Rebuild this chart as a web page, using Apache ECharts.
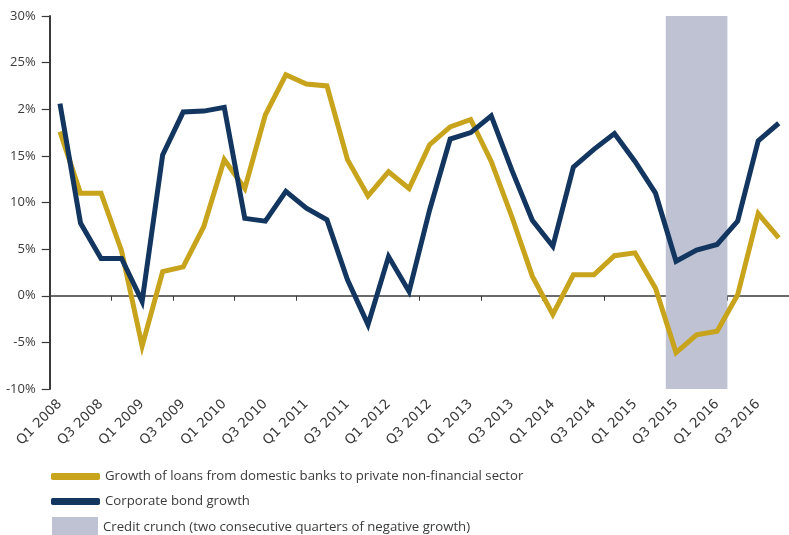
<!DOCTYPE html>
<html><head><meta charset="utf-8">
<script src="https://cdn.jsdelivr.net/npm/echarts@6/dist/echarts.min.js"></script>
<style>html,body{margin:0;padding:0;background:#fff}#c{width:789px;height:535px}</style>
</head><body><div id="c"></div>
<script>
var categories = [];
var years = [2008,2009,2010,2011,2012,2013,2014,2015,2016];
years.forEach(function(y){ for (var q=1;q<=4;q++) categories.push('Q'+q+' '+y); });

var loansGrowth = [17.6,11.0,11.0,4.8,-5.4,2.6,3.1,7.4,14.6,11.5,19.4,23.7,22.7,22.5,14.6,10.7,13.3,11.5,16.2,18.1,18.9,14.4,8.5,2.1,-2.0,2.25,2.25,4.3,4.6,0.8,-6.1,-4.2,-3.8,0.1,8.8,6.2];
var bondGrowth = [20.6,7.8,4.0,4.0,-0.6,15.1,19.7,19.8,20.2,8.3,8.0,11.2,9.4,8.15,1.7,-3.1,4.2,0.45,9.2,16.8,17.5,19.3,13.5,8.1,5.3,13.8,15.7,17.4,14.4,11.0,3.7,4.9,5.5,8.0,16.6,18.5];
var crunchStart = 'Q3 2015';
var crunchEnd = 'Q1 2016';
var yTickLabels = {'-10':'-10%','-5':'-5%','0':'0%','5':'5%','10':'10%','15':'15%','20':'2%','25':'25%','30':'30%'};
var seriesNames = ['Growth of loans from domestic banks to private non-financial sector','Corporate bond growth','Credit crunch (two consecutive quarters of negative growth)'];

var GOLD = '#C8A31C', NAVY = '#12365F', SHADE = '#BEC2D3', AX = '#3a3a3a', TXT = '#3a3a3a';
var FONT = 'Open Sans';
var YMIN = -10, YMAX = 30;

var chart = echarts.init(document.getElementById('c'), null, {renderer:'canvas'});
var legendBase = {orient:'horizontal', left:46, selectedMode:false, textStyle:{fontFamily:FONT,fontSize:13.2,color:TXT}};
chart.setOption({
  animation:false,
  textStyle:{fontFamily:FONT},
  grid:{left:49.7, width:742.9, top:16, height:373, containLabel:false},
  legend:[
    Object.assign({}, legendBase, {top:465, itemWidth:49, itemHeight:7, icon:'roundRect', data:[{name:seriesNames[0], itemStyle:{color:GOLD}}]}),
    Object.assign({}, legendBase, {top:490, itemWidth:49, itemHeight:7, icon:'roundRect', data:[{name:seriesNames[1], itemStyle:{color:NAVY}}]}),
    Object.assign({}, legendBase, {left:47, top:512, itemWidth:46, itemHeight:21, icon:'rect', data:[{name:seriesNames[2], itemStyle:{color:SHADE}}]})
  ],
  xAxis:[
    {type:'category', data:categories, position:'bottom', boundaryGap:true,
     axisLine:{onZero:true, lineStyle:{color:AX, width:1.5}},
     axisTick:{show:true, length:5, lineStyle:{color:AX, width:1}},
     axisLabel:{show:false}, splitLine:{show:false}},
    {type:'category', data:categories, position:'bottom', boundaryGap:true,
     axisLine:{show:false, onZero:false}, axisTick:{show:false},
     axisLabel:{show:true, interval:1, rotate:45, margin:13, fontSize:13.5, color:TXT, fontFamily:'DejaVu Sans'},
     splitLine:{show:false}}
  ],
  yAxis:{type:'value', min:YMIN, max:YMAX, interval:5,
    axisLine:{show:true, lineStyle:{color:AX, width:2}},
    axisTick:{show:true, length:8, lineStyle:{color:AX, width:1.2}},
    axisLabel:{fontSize:13, color:TXT, margin:14, fontFamily:FONT, formatter:function(v){return yTickLabels[String(v)];}},
    splitLine:{show:false}},
  series:[
    {name:seriesNames[2], type:'custom', xAxisIndex:0, z:1, itemStyle:{color:SHADE},
     data:[[categories.indexOf(crunchStart), categories.indexOf(crunchEnd)]],
     renderItem:function(params, api){
       var s = api.value(0), e = api.value(1);
       var p0 = api.coord([s, YMAX]);
       var p1 = api.coord([e, YMIN]);
       var band = api.size([1,0])[0];
       return {type:'rect', shape:{x:p0[0]-band/2, y:p0[1], width:p1[0]-p0[0]+band, height:p1[1]-p0[1]}, style:{fill:SHADE}};
     }},
    {name:seriesNames[0], type:'line', xAxisIndex:0, data:loansGrowth, symbol:'none', z:3,
     lineStyle:{color:GOLD, width:5, join:'miter'}, itemStyle:{color:GOLD}},
    {name:seriesNames[1], type:'line', xAxisIndex:0, data:bondGrowth, symbol:'none', z:4,
     lineStyle:{color:NAVY, width:5, join:'miter'}, itemStyle:{color:NAVY}}
  ]
});
</script></body></html>
